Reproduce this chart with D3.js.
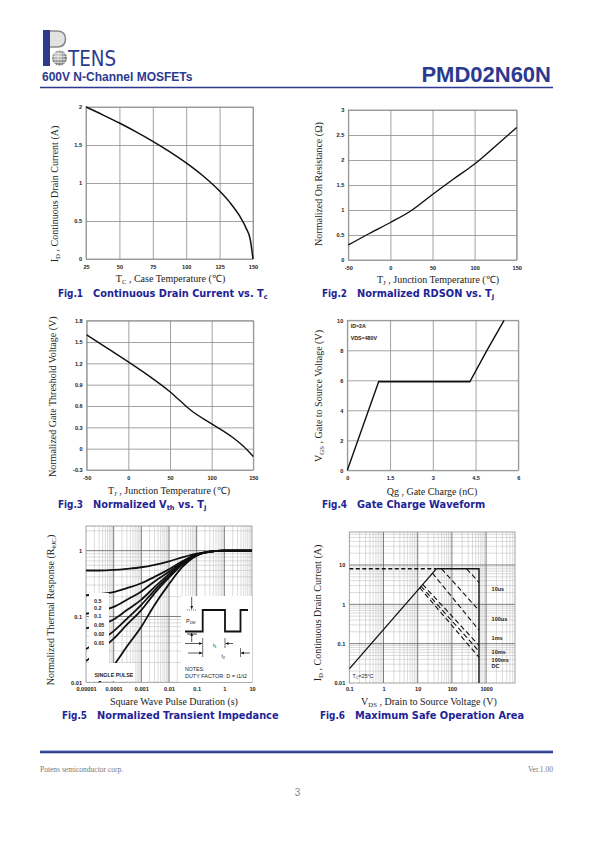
<!DOCTYPE html>
<html><head><meta charset="utf-8">
<script src="https://cdn.jsdelivr.net/npm/d3@7"></script>
<style>body{margin:0;background:#fff}svg{display:block}</style>
</head><body>
<svg id="page" width="595" height="842"></svg>
<script>
// ---------------- DATA ----------------
// Fig.1 Continuous drain current vs case temperature
const fig1CaseTemp = [25, 37.5, 50, 62.5, 75, 87.5, 100, 112.5, 125, 132.5, 140, 145, 148, 150];
const fig1DrainCurrent = [2.0, 1.897, 1.789, 1.673, 1.549, 1.414, 1.265, 1.095, 0.894, 0.748, 0.566, 0.4, 0.253, 0];
const fig1XTicks = [25, 50, 75, 100, 125, 150];
const fig1XLabels = ["25", "50", "75", "100", "125", "150"];
const fig1YTicks = [0, 0.5, 1, 1.5, 2];
const fig1YLabels = ["0", "0.5", "1", "1.5", "2"];

// Fig.2 Normalized RDSON vs junction temperature
const fig2JuncTemp = [-50, -25, 0, 25, 50, 75, 100, 125, 150];
const fig2Rdson = [0.3, 0.53, 0.75, 0.99, 1.31, 1.62, 1.92, 2.28, 2.65];
const fig2XTicks = [-50, 0, 50, 100, 150];
const fig2XLabels = ["-50", "0", "50", "100", "150"];
const fig2YTicks = [0, 0.5, 1, 1.5, 2, 2.5, 3];
const fig2YLabels = ["0", "0.5", "1", "1.5", "2", "2.5", "3"];

// Fig.3 Normalized Vth vs junction temperature
const fig3JuncTemp = [-50, -25, 0, 25, 50, 62.5, 75, 100, 125, 137.5, 150];
const fig3Vth = [1.6, 1.41, 1.22, 1.02, 0.8, 0.67, 0.54, 0.35, 0.16, 0.04, -0.11];
const fig3XTicks = [-50, 0, 50, 100, 150];
const fig3XLabels = ["-50", "0", "50", "100", "150"];
const fig3YTicks = [-0.3, 0, 0.3, 0.6, 0.9, 1.2, 1.5, 1.8];
const fig3YLabels = ["-0.3", "0", "0.3", "0.6", "0.9", "1.2", "1.5", "1.8"];

// Fig.4 Gate charge waveform
const fig4GateCharge = [0, 1.1, 4.3, 4.9, 5.5];
const fig4Vgs = [0, 5.9, 5.9, 8, 10];
const fig4XTicks = [0, 1.5, 3, 4.5, 6];
const fig4XLabels = ["0", "1.5", "3", "4.5", "6"];
const fig4YTicks = [0, 2, 4, 6, 8, 10];
const fig4YLabels = ["0", "2", "4", "6", "8", "10"];
const fig4Notes = ["ID=2A", "VDS=480V"];

// Fig.5 Normalized transient thermal impedance
const fig5Duration = [1e-5, 3e-5, 1e-4, 3e-4, 1e-3, 3e-3, 1e-2, 3e-2, 1e-1, 3e-1, 1, 3, 10];
const fig5DutyNames = ["0.5", "0.2", "0.1", "0.05", "0.02", "0.01", "SINGLE PULSE"];
const fig5D05 = [0.50, 0.50, 0.51, 0.53, 0.56, 0.61, 0.69, 0.79, 0.90, 0.97, 1.0, 1.0, 1.0];
const fig5D02 = [0.21, 0.22, 0.235, 0.27, 0.32, 0.40, 0.52, 0.69, 0.88, 0.97, 1.0, 1.0, 1.0];
const fig5D01 = [0.11, 0.12, 0.14, 0.18, 0.24, 0.34, 0.48, 0.66, 0.87, 0.97, 1.0, 1.0, 1.0];
const fig5D005 = [0.066, 0.074, 0.09, 0.125, 0.18, 0.28, 0.44, 0.64, 0.86, 0.97, 1.0, 1.0, 1.0];
const fig5D002 = [0.032, 0.042, 0.06, 0.092, 0.15, 0.25, 0.41, 0.62, 0.86, 0.97, 1.0, 1.0, 1.0];
const fig5D001 = [0.021, 0.03, 0.046, 0.075, 0.125, 0.225, 0.39, 0.61, 0.85, 0.97, 1.0, 1.0, 1.0];
const fig5Single = [0.0065, 0.01, 0.018, 0.035, 0.07, 0.15, 0.31, 0.56, 0.84, 0.96, 1.0, 1.0, 1.0];
const fig5XTicks = [1e-5, 1e-4, 1e-3, 1e-2, 1e-1, 1, 10];
const fig5XLabels = ["0.00001", "0.0001", "0.001", "0.01", "0.1", "1", "10"];
const fig5YTicks = [0.01, 0.1, 1];
const fig5YLabels = ["0.01", "0.1", "1"];

// Fig.6 Maximum safe operating area
const fig6RdsLimitV = [0.1, 35];
const fig6RdsLimitI = [0.023, 8];
const fig6MaxCurrent = 8;
const fig6MaxVoltage = 620;
const fig6PulseNames = ["10us", "100us", "1ms", "10ms", "100ms", "DC"];
const fig6PulseStartV = [270, 50, 27, 14, 12.5, 11.5];
const fig6PulseStartI = [8, 8, 6.2, 3.2, 2.9, 2.65];
const fig6PulseEndI = [3.6, 0.7, 0.22, 0.09, 0.064, 0.045];
const fig6LabelI = [2.41, 0.415, 0.136, 0.062, 0.038, 0.027];
const fig6XTicks = [0.1, 1, 10, 100, 1000];
const fig6XLabels = ["0.1", "1", "10", "100", "1000"];
const fig6YTicks = [0.01, 0.1, 1, 10];
const fig6YLabels = ["0.01", "0.1", "1", "10"];

// ---------------- DRAWING ----------------
const svg = d3.select("#page");
svg.append("rect").attr("width", 595).attr("height", 842).attr("fill", "#fff");
const NAVY = "#2b3a8f";
const CAP = "#1e2396";
const SERIF = "'Liberation Serif','Times New Roman',serif";
const SANS = "'Liberation Sans',Arial,sans-serif";

function rich(t, parts, size) {
  let shifted = false;
  parts.forEach(p => {
    const s = t.append("tspan").text(p.t);
    if (p.sub) {
      s.attr("font-size", size * 0.68).attr("dy", size * 0.22);
      shifted = true;
    } else if (shifted) {
      s.attr("dy", -size * 0.22);
      shifted = false;
    }
  });
  return t;
}
function xTitle(cx, baseline, parts) {
  const t = svg.append("text").attr("x", cx).attr("y", baseline).attr("text-anchor", "middle")
    .attr("font-family", SERIF).attr("font-size", 10).attr("fill", "#222");
  rich(t, parts, 10);
}
function yTitle(bx, cy, parts) {
  const t = svg.append("text").attr("transform", `translate(${bx},${cy}) rotate(-90)`)
    .attr("text-anchor", "middle").attr("font-family", SERIF).attr("font-size", 10).attr("fill", "#222");
  rich(t, parts, 10);
}
function caption(x, baseline, fig, parts) {
  const g = svg.append("g").attr("font-family", "'DejaVu Sans',Verdana,sans-serif")
    .attr("font-weight", "bold").attr("font-size", 9.8).attr("fill", CAP);
  g.append("text").attr("x", x).attr("y", baseline).attr("textLength", 25).attr("lengthAdjust", "spacingAndGlyphs").text(fig);
  const t = g.append("text").attr("x", x + 35).attr("y", baseline);
  rich(t, parts, 9.8);
}
function styleAxis(a) {
  a.select(".domain").remove();
  a.selectAll(".tick line").attr("stroke", "#8c8c8c").attr("stroke-width", 0.8);
  a.selectAll(".tick text").attr("font-family", SANS).attr("font-size", 5.6)
    .attr("font-weight", "bold").attr("fill", "#222");
}
function linearFrame(c) {
  const x = d3.scaleLinear().domain(c.xDomain).range([c.left, c.right]);
  const y = d3.scaleLinear().domain(c.yDomain).range([c.bottom, c.top]);
  const g = svg.append("g");
  const H = c.bottom - c.top, W = c.right - c.left;
  g.append("g").attr("transform", `translate(0,${c.bottom})`)
    .call(d3.axisBottom(x).tickValues(c.xTicks).tickSize(-H).tickPadding(6)
      .tickFormat((d, i) => c.xLabels[i])).call(styleAxis);
  g.append("g").attr("transform", `translate(${c.left},0)`)
    .call(d3.axisLeft(y).tickValues(c.yTicks).tickSize(-W).tickPadding(4)
      .tickFormat((d, i) => c.yLabels[i])).call(styleAxis);
  g.append("rect").attr("x", c.left).attr("y", c.top).attr("width", W).attr("height", H)
    .attr("fill", "none").attr("stroke", "#8c8c8c").attr("stroke-width", 0.8);
  return { x, y, g };
}
function logFrame(c) {
  const x = d3.scaleLog().domain(c.xDomain).range([c.left, c.right]);
  const y = d3.scaleLog().domain(c.yDomain).range([c.bottom, c.top]);
  const g = svg.append("g");
  const isMajor = d => Math.abs(Math.log10(d) - Math.round(Math.log10(d))) < 1e-6;
  const xt = x.ticks().filter(d => d > c.xDomain[0] * 1.0001 && d < c.xDomain[1] * 0.9999);
  const yt = y.ticks().filter(d => d > c.yDomain[0] * 1.0001 && d < c.yDomain[1] * 0.9999);
  [false, true].forEach(maj => {
    g.append("g").selectAll("line").data(xt.filter(d => isMajor(d) === maj)).join("line")
      .attr("x1", d => x(d)).attr("x2", d => x(d)).attr("y1", c.top).attr("y2", c.bottom)
      .attr("stroke", maj ? "#6e6e6e" : "#b8b8b8").attr("stroke-width", maj ? 0.9 : 0.5);
    g.append("g").selectAll("line").data(yt.filter(d => isMajor(d) === maj)).join("line")
      .attr("y1", d => y(d)).attr("y2", d => y(d)).attr("x1", c.left).attr("x2", c.right)
      .attr("stroke", maj ? "#6e6e6e" : "#b8b8b8").attr("stroke-width", maj ? 0.9 : 0.5);
  });
  g.append("rect").attr("x", c.left).attr("y", c.top).attr("width", c.right - c.left).attr("height", c.bottom - c.top)
    .attr("fill", "none").attr("stroke", "#8c8c8c").attr("stroke-width", 0.8);
  g.append("g").attr("transform", `translate(0,${c.bottom})`)
    .call(d3.axisBottom(x).tickValues(c.xTicks).tickSize(0).tickPadding(c.xPad)
      .tickFormat((d, i) => c.xLabels[i])).call(styleAxis);
  g.append("g").attr("transform", `translate(${c.left},0)`)
    .call(d3.axisLeft(y).tickValues(c.yTicks).tickSize(0).tickPadding(4)
      .tickFormat((d, i) => c.yLabels[i])).call(styleAxis);
  const clipId = "clip" + Math.round(c.left) + Math.round(c.top);
  svg.append("clipPath").attr("id", clipId).append("rect")
    .attr("x", c.left).attr("y", c.top - 2).attr("width", c.right - c.left).attr("height", c.bottom - c.top + 2);
  return { x, y, g, clip: `url(#${clipId})` };
}
function note(x, y, txt, size, anchor) {
  svg.append("text").attr("x", x).attr("y", y).attr("font-family", SANS).attr("font-size", size || 5.5)
    .attr("font-weight", "bold").attr("fill", "#222").attr("text-anchor", anchor || "start").text(txt);
}

// ---------- Header ----------
const logo = svg.append("g");
logo.append("rect").attr("x", 43).attr("y", 30).attr("width", 7).attr("height", 36).attr("fill", NAVY);
logo.append("path").attr("d", "M50,31 H57 Q65.5,31 65.5,39 Q65.5,47 57,47 H50")
  .attr("fill", "#e2e2e2").attr("stroke", "#8a8a8a").attr("stroke-width", 1.6);
const grad = svg.append("defs").append("radialGradient").attr("id", "globe").attr("cx", "40%").attr("cy", "35%");
grad.append("stop").attr("offset", "0%").attr("stop-color", "#d8d8d8");
grad.append("stop").attr("offset", "100%").attr("stop-color", "#7a7a7a");
logo.append("circle").attr("cx", 59.5).attr("cy", 58).attr("r", 7.5).attr("fill", "url(#globe)");
[-4.5, -1.5, 1.5, 4.5].forEach(o => {
  logo.append("line").attr("x1", 52).attr("x2", 67).attr("y1", 58 + o).attr("y2", 58 + o).attr("stroke", "#fff").attr("stroke-width", 0.5);
  logo.append("line").attr("y1", 50.5).attr("y2", 65.5).attr("x1", 59.5 + o).attr("x2", 59.5 + o).attr("stroke", "#fff").attr("stroke-width", 0.5);
});
logo.append("text").attr("x", 68).attr("y", 65.5).attr("font-family", "'Liberation Sans Narrow','DejaVu Sans Condensed',sans-serif")
  .attr("font-size", 21).attr("fill", NAVY).attr("textLength", 48).attr("lengthAdjust", "spacingAndGlyphs").text("TENS");
svg.append("text").attr("x", 42).attr("y", 81).attr("font-family", SANS).attr("font-weight", "bold")
  .attr("font-size", 12).attr("fill", NAVY).text("600V N-Channel MOSFETs");
svg.append("text").attr("x", 551).attr("y", 82).attr("text-anchor", "end").attr("font-family", SANS)
  .attr("font-weight", "bold").attr("font-size", 22).attr("fill", NAVY).text("PMD02N60N");
svg.append("line").attr("x1", 40).attr("x2", 553).attr("y1", 87.5).attr("y2", 87.5).attr("stroke", NAVY).attr("stroke-width", 1.5);

// ---------- Fig.1 ----------
{
  const f = linearFrame({ left: 86, right: 253, top: 107, bottom: 259, xDomain: [25, 150], yDomain: [0, 2],
    xTicks: fig1XTicks, xLabels: fig1XLabels, yTicks: fig1YTicks, yLabels: fig1YLabels });
  f.g.append("path").datum(fig1CaseTemp.map((t, i) => [t, fig1DrainCurrent[i]]))
    .attr("d", d3.line().x(d => f.x(d[0])).y(d => f.y(d[1])).curve(d3.curveMonotoneX))
    .attr("fill", "none").attr("stroke", "#111").attr("stroke-width", 1.5);
  xTitle(170.5, 282, [{ t: "T" }, { t: "C", sub: 1 }, { t: " , Case Temperature (℃)" }]);
  yTitle(58, 194, [{ t: "I" }, { t: "D", sub: 1 }, { t: " , Continuous Drain Current (A)" }]);
  caption(58, 297, "Fig.1", [{ t: "Continuous Drain Current vs. T" }, { t: "c", sub: 1 }]);
}
// ---------- Fig.2 ----------
{
  const f = linearFrame({ left: 348.3, right: 516.7, top: 110, bottom: 260, xDomain: [-50, 150], yDomain: [0, 3],
    xTicks: fig2XTicks, xLabels: fig2XLabels, yTicks: fig2YTicks, yLabels: fig2YLabels });
  f.g.append("path").datum(fig2JuncTemp.map((t, i) => [t, fig2Rdson[i]]))
    .attr("d", d3.line().x(d => f.x(d[0])).y(d => f.y(d[1])).curve(d3.curveMonotoneX))
    .attr("fill", "none").attr("stroke", "#111").attr("stroke-width", 1.4);
  xTitle(438, 283, [{ t: "T" }, { t: "J", sub: 1 }, { t: " , Junction Temperature (℃)" }]);
  yTitle(321.5, 184, [{ t: "Normalized On Resistance (Ω)" }]);
  caption(322, 297, "Fig.2", [{ t: "Normalized RDSON vs. T" }, { t: "J", sub: 1 }]);
}
// ---------- Fig.3 ----------
{
  const f = linearFrame({ left: 86.7, right: 253.3, top: 320.7, bottom: 470, xDomain: [-50, 150], yDomain: [-0.3, 1.8],
    xTicks: fig3XTicks, xLabels: fig3XLabels, yTicks: fig3YTicks, yLabels: fig3YLabels });
  f.g.append("path").datum(fig3JuncTemp.map((t, i) => [t, fig3Vth[i]]))
    .attr("d", d3.line().x(d => f.x(d[0])).y(d => f.y(d[1])).curve(d3.curveMonotoneX))
    .attr("fill", "none").attr("stroke", "#111").attr("stroke-width", 1.4);
  xTitle(169, 494, [{ t: "T" }, { t: "J", sub: 1 }, { t: " , Junction Temperature (℃)" }]);
  yTitle(56, 396.7, [{ t: "Normalized Gate Threshold Voltage (V)" }]);
  caption(58, 508, "Fig.3", [{ t: "Normalized V" }, { t: "th", sub: 1 }, { t: " vs. T" }, { t: "J", sub: 1 }]);
}
// ---------- Fig.4 ----------
{
  const f = linearFrame({ left: 347.3, right: 518.3, top: 320.3, bottom: 470.3, xDomain: [0, 6], yDomain: [0, 10],
    xTicks: fig4XTicks, xLabels: fig4XLabels, yTicks: fig4YTicks, yLabels: fig4YLabels });
  const pts = fig4GateCharge.map((q, i) => [q, fig4Vgs[i]]);
  f.g.append("path").datum(pts.slice(1, 3))
    .attr("d", d3.line().x(d => f.x(d[0])).y(d => f.y(d[1]) - 0.8))
    .attr("fill", "none").attr("stroke", "#888").attr("stroke-width", 1.4);
  f.g.append("path").datum(pts)
    .attr("d", d3.line().x(d => f.x(d[0])).y(d => f.y(d[1])))
    .attr("fill", "none").attr("stroke", "#111").attr("stroke-width", 1.4);
  note(350.7, 328, fig4Notes[0], 5.3);
  note(350.7, 340, fig4Notes[1], 5.3);
  xTitle(432, 495, [{ t: "Qg , Gate Charge (nC)" }]);
  yTitle(322, 396, [{ t: "V" }, { t: "GS", sub: 1 }, { t: " , Gate to Source Voltage (V)" }]);
  caption(322, 508, "Fig.4", [{ t: "Gate Charge Waveform" }]);
}
// ---------- Fig.5 ----------
{
  const f = logFrame({ left: 86, right: 252, top: 526, bottom: 682.3, xDomain: [1e-5, 10], yDomain: [0.01, 2.37],
    xTicks: fig5XTicks, xLabels: fig5XLabels, yTicks: fig5YTicks, yLabels: fig5YLabels, xPad: 4.5 });
  const series = [fig5D05, fig5D02, fig5D01, fig5D005, fig5D002, fig5D001, fig5Single];
  const line = d3.line().x(d => f.x(d[0])).y(d => f.y(d[1])).curve(d3.curveMonotoneX);
  const cg = f.g.append("g").attr("clip-path", f.clip);
  series.forEach(s => {
    cg.append("path").datum(fig5Duration.map((t, i) => [t, s[i]])).attr("d", line)
      .attr("fill", "none").attr("stroke", "#111").attr("stroke-width", 1.8);
  });
  // label box
  f.g.append("rect").attr("x", 89).attr("y", 593).attr("width", 20).attr("height", 70).attr("fill", "#fff");
  f.g.append("rect").attr("x", 89).attr("y", 663).attr("width", 46).attr("height", 18).attr("fill", "#fff");
  const labelY = [603, 610, 618, 626.5, 635.5, 644.5];
  fig5DutyNames.slice(0, 6).forEach((n, i) => note(94, labelY[i], n, 5.3));
  note(94.5, 676.5, fig5DutyNames[6], 5.3);
  // inset
  const ig = svg.append("g").attr("transform", "translate(181,596)");
  ig.append("rect").attr("x", 0).attr("y", 0).attr("width", 71).attr("height", 86).attr("fill", "#fff");
  ig.append("path").attr("d", "M4,35.5 H21.7 V14 H44 V35.5 H59.5 V14 H67")
    .attr("fill", "none").attr("stroke", "#111").attr("stroke-width", 1.8);
  function arrow(x1, y1, x2, y2) {
    ig.append("line").attr("x1", x1).attr("y1", y1).attr("x2", x2).attr("y2", y2).attr("stroke", "#111").attr("stroke-width", 0.7);
    const a = Math.atan2(y2 - y1, x2 - x1), L = 3, W = 1.4;
    const p = [[x2, y2], [x2 - L * Math.cos(a) + W * Math.sin(a), y2 - L * Math.sin(a) - W * Math.cos(a)],
      [x2 - L * Math.cos(a) - W * Math.sin(a), y2 - L * Math.sin(a) + W * Math.cos(a)]];
    ig.append("path").attr("d", "M" + p.join("L") + "Z").attr("fill", "#111");
  }
  arrow(10.7, 1, 10.7, 13);
  ig.append("line").attr("x1", 6).attr("x2", 16).attr("y1", 14).attr("y2", 14).attr("stroke", "#111").attr("stroke-width", 0.6).attr("stroke-dasharray", "1,1");
  arrow(10.7, 46, 10.7, 37);
  ig.append("line").attr("x1", 6).attr("x2", 16).attr("y1", 38).attr("y2", 38).attr("stroke", "#111").attr("stroke-width", 0.8);
  arrow(4, 47.5, 21.2, 47.5);
  arrow(52, 47.5, 44.5, 47.5);
  [21.7, 44].forEach(xx => ig.append("line").attr("x1", xx).attr("x2", xx).attr("y1", 42).attr("y2", 52).attr("stroke", "#111").attr("stroke-width", 0.6));
  arrow(7, 57, 21.2, 57);
  arrow(69, 57, 60, 57);
  [21.7, 59.5].forEach(xx => ig.append("line").attr("x1", xx).attr("x2", xx).attr("y1", 52).attr("y2", 61).attr("stroke", "#111").attr("stroke-width", 0.6));
  const it = (x, y, parts, size) => {
    const t = ig.append("text").attr("x", x).attr("y", y).attr("font-family", SANS).attr("font-size", size).attr("fill", "#222");
    rich(t, parts, size);
  };
  it(5, 26.5, [{ t: "P" }, { t: "DM", sub: 1 }], 5.5);
  it(32, 51, [{ t: "t" }, { t: "1", sub: 1 }], 5.5);
  it(40.5, 62, [{ t: "t" }, { t: "2", sub: 1 }], 5.5);
  ig.append("text").attr("x", 4).attr("y", 75).attr("font-family", SANS).attr("font-size", 5.2).attr("fill", "#222").text("NOTES:");
  ig.append("text").attr("x", 4).attr("y", 82).attr("font-family", SANS).attr("font-size", 5.2).attr("fill", "#222")
    .attr("textLength", 62).attr("lengthAdjust", "spacingAndGlyphs").text("DUTY FACTOR: D = t1/t2");
  xTitle(174, 705, [{ t: "Square Wave Pulse Duration (s)" }]);
  yTitle(54, 610, [{ t: "Normalized Thermal Response (R" }, { t: "θJC", sub: 1 }, { t: ")" }]);
  caption(62, 719, "Fig.5", [{ t: "Normalized Transient Impedance" }]);
}
// ---------- Fig.6 ----------
{
  const f = logFrame({ left: 349.3, right: 515, top: 532, bottom: 683, xDomain: [0.1, 7000], yDomain: [0.01, 69],
    xTicks: fig6XTicks, xLabels: fig6XLabels, yTicks: fig6YTicks, yLabels: fig6YLabels, xPad: 4 });
  const line = d3.line().x(d => f.x(d[0])).y(d => f.y(d[1]));
  const cg = f.g.append("g").attr("clip-path", f.clip);
  cg.append("path").datum(fig6RdsLimitV.map((v, i) => [v, fig6RdsLimitI[i]])).attr("d", line)
    .attr("fill", "none").attr("stroke", "#111").attr("stroke-width", 1.3);
  cg.append("path").datum([[fig6RdsLimitV[0], fig6MaxCurrent], [fig6RdsLimitV[1], fig6MaxCurrent]]).attr("d", line)
    .attr("fill", "none").attr("stroke", "#111").attr("stroke-width", 1.4).attr("stroke-dasharray", "4,2.5");
  cg.append("path").datum([[fig6RdsLimitV[1], fig6MaxCurrent], [fig6MaxVoltage, fig6MaxCurrent], [fig6MaxVoltage, 0.01]]).attr("d", line)
    .attr("fill", "none").attr("stroke", "#111").attr("stroke-width", 1.4);
  fig6PulseNames.forEach((n, i) => {
    cg.append("path").datum([[fig6PulseStartV[i], fig6PulseStartI[i]], [fig6MaxVoltage, fig6PulseEndI[i]]]).attr("d", line)
      .attr("fill", "none").attr("stroke", "#111").attr("stroke-width", 1.1).attr("stroke-dasharray", "5,3");
    svg.append("text").attr("x", f.x(1450)).attr("y", f.y(fig6LabelI[i])).attr("dy", "0.35em")
      .attr("font-family", SANS).attr("font-size", 5.5).attr("font-weight", "bold").attr("fill", "#222").text(n);
  });
  const tc = svg.append("text").attr("x", 352.5).attr("y", 678).attr("font-family", SANS).attr("font-size", 5.3).attr("fill", "#222");
  rich(tc, [{ t: "T" }, { t: "C", sub: 1 }, { t: "=25°C" }], 5.3);
  xTitle(429, 705, [{ t: "V" }, { t: "DS", sub: 1 }, { t: " , Drain to Source Voltage (V)" }]);
  yTitle(321, 613, [{ t: "I" }, { t: "D", sub: 1 }, { t: " , Continuous Drain Current (A)" }]);
  caption(320, 719, "Fig.6", [{ t: "Maximum Safe Operation Area" }]);
}

// ---------- Footer ----------
svg.append("line").attr("x1", 40).attr("x2", 553).attr("y1", 752).attr("y2", 752).attr("stroke", NAVY).attr("stroke-width", 2.6);
svg.append("line").attr("x1", 40).attr("x2", 553).attr("y1", 751).attr("y2", 751).attr("stroke", "#6f7fc8").attr("stroke-width", 0.6);
svg.append("text").attr("x", 40).attr("y", 772).attr("font-family", SERIF).attr("font-size", 7.5).attr("fill", "#777").text("Potens semiconductor corp.");
svg.append("text").attr("x", 553).attr("y", 772).attr("text-anchor", "end").attr("font-family", SERIF).attr("font-size", 7.5).attr("fill", "#777").text("Ver.1.00");
svg.append("text").attr("x", 297.5).attr("y", 796).attr("text-anchor", "middle").attr("font-family", SANS).attr("font-size", 10).attr("fill", "#888").text("3");
</script>
</body></html>
